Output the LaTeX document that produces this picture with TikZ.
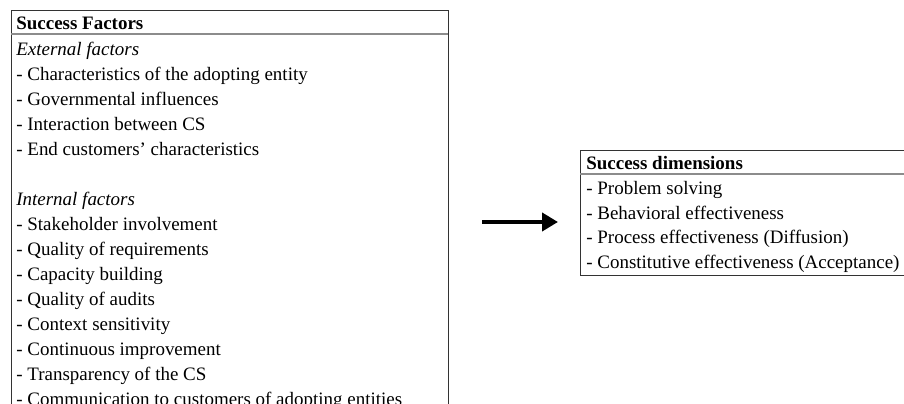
\documentclass[tikz,border=0pt]{standalone}
\usepackage{fontspec}
\setmainfont{Liberation Serif}
\usetikzlibrary{arrows.meta}
\tikzset{every node/.append style={font=\fontsize{10.8}{13}\selectfont, inner sep=0pt}}
\tikzset{
    item/.style={anchor=base west},
    box/.style={draw=black!80, line width=0.7pt, anchor=north west},
    rule/.style={draw=black!45, line width=0.6pt}
}

\begin{document}
\begin{tikzpicture}[x=0.02cm, y=-0.02cm, >={Triangle[length=0.32cm, width=0.36cm]}]
    \useasboundingbox (0,0) rectangle (904,404);
    \clip (0,0) rectangle (904,404);
    % success factors (runs past the lower edge)
    \node[box, minimum width=8.74cm, minimum height=8.4cm] (factors) at (11,10) {};
    \draw[rule] (11,34) -- (448,34);
    \node[item] (fhead) at (16,30) {\textbf{Success Factors}};
    \node[item] (ext) at (16,56) {\textit{External factors}};
    \foreach \y/\t [count=\i] in {81/{Characteristics of the adopting entity},
        106/{Governmental influences}, 131/{Interaction between CS},
        156/{End customers’ characteristics}} {
        \node[item] (ext\i) at (16,\y) {- \t};
    }
    \node[item] (int) at (16,206) {\textit{Internal factors}};
    \foreach \y/\t [count=\i] in {231/{Stakeholder involvement},
        256/{Quality of requirements}, 281/{Capacity building},
        306/{Quality of audits}, 331/{Context sensitivity},
        356/{Continuous improvement}, 381/{Transparency of the CS},
        406/{Communication to customers of adopting entities}} {
        \node[item] (int\i) at (16,\y) {- \t};
    }
    % success dimensions (runs past the right edge)
    \node[box, minimum width=6.8cm, minimum height=2.5cm] (dims) at (580,150) {};
    \draw[rule] (580,174) -- (920,174);
    \node[item] (dhead) at (586,170) {\textbf{Success dimensions}};
    \foreach \y/\t [count=\i] in {195/{Problem solving},
        220/{Behavioral effectiveness}, 244/{Process effectiveness (Diffusion)},
        269/{Constitutive effectiveness (Acceptance)}} {
        \node[item] (dim\i) at (586,\y) {- \t};
    }
    \coordinate (from) at (482,222);
    \coordinate (to) at (558,222);
    \draw[->, line width=2.8pt] (from) -- (to);
\end{tikzpicture}
\end{document}
